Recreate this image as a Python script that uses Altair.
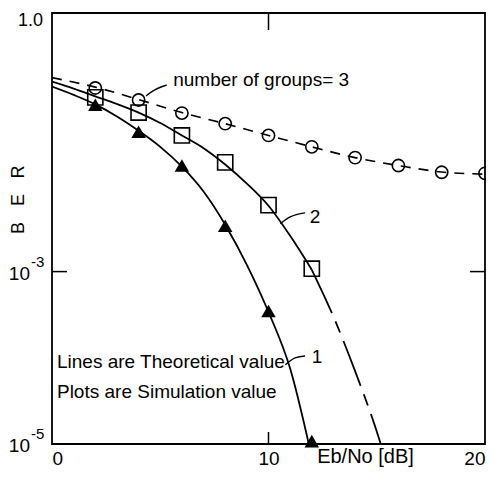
import altair as alt
import pandas as pd

# ---- data ----
x_circle = [2, 4, 6, 8, 10, 12, 14, 16, 18, 20]
ber_circle = [0.135, 0.098, 0.069, 0.052, 0.038, 0.028, 0.021, 0.017, 0.0142, 0.0138]

x_square = [2, 4, 6, 8, 10, 12]
ber_square = [0.105, 0.070, 0.038, 0.0185, 0.0059, 0.00108]

x_tri = [2, 4, 6, 8, 10, 12]
ber_tri = [0.086, 0.042, 0.017, 0.0034, 0.00035, 0.0000108]

x_line1 = [0, 1, 2, 3, 4, 5, 6, 7, 8, 9, 10, 11, 12]
ber_line1 = [0.14, 0.112, 0.087, 0.063, 0.043, 0.028, 0.0165, 0.0085, 0.0035,
             0.0012, 0.00034, 0.000075, 0.000007]

x_line2 = [0, 1, 2, 3, 4, 5, 6, 7, 8, 9, 10, 11, 12, 13, 14, 15, 16]
ber_line2 = [0.16, 0.133, 0.108, 0.088, 0.07, 0.053, 0.038, 0.027, 0.0175, 0.0105,
             0.0058, 0.0026, 0.00105, 0.0003, 0.00007, 0.000014, 0.000002]

x_line3 = [0, 2, 4, 6, 8, 10, 12, 14, 16, 18, 20]
ber_line3 = [0.178, 0.138, 0.099, 0.07, 0.052, 0.038, 0.028, 0.021, 0.017, 0.0143, 0.0135]

ann_text = ["number of groups= 3", "2", "1",
            "Lines are Theoretical value", "Plots are Simulation value"]
ann_x = [5.6, 11.9, 12.0, 0.23, 0.23]
ann_y = [0.167, 0.0043, 0.000102, 0.000089, 0.00004]

lead_id = ["g", "g", "g", "2", "2", "2", "1", "1", "1"]
lead_x = [4.34, 4.75, 5.3, 10.55, 11.0, 11.69, 10.78, 11.23, 11.69]
lead_y = [0.109, 0.128, 0.146, 0.0036, 0.0043, 0.0048, 0.000083, 0.0001, 0.000105]

x_ticks = [10]
y_ticks = [0.001]
x_tick_labels = [0, 10, 20]
y_top_value = [1.0]
y_top_text = ["1.0"]
y_pow_values = [0.001, 0.00001]
y_pow_base = ["10", "10"]
y_pow_exp = ["-3", "-5"]
y_title_letters = ["B", "E", "R"]
x_title = "Eb/No [dB]"

# ---- styles ----
W, H = 433, 431
LAB_FONT = "Liberation Sans"
ANN_FONT = "Liberation Sans"
TITLE_CENTER, TITLE_STEP = 187, 28   # y-title letter layout (px)

xscale = alt.Scale(domain=[0, 20], nice=False)
yscale = alt.Scale(type="log", domain=[1e-5, 1], nice=False)

xaxis = alt.Axis(values=x_tick_labels, ticks=False, grid=False, domain=False,
                 labelFont=LAB_FONT, labelFontSize=19, labelColor="black",
                 labelFlush=True, labelPadding=5,
                 title=x_title, titleFont=LAB_FONT, titleFontSize=20,
                 titleFontWeight="normal", titleColor="black",
                 titleX=313, titleY=12, titleAlign="center", titleBaseline="middle")
yaxis = alt.Axis(labels=False, ticks=False, grid=False, domain=False, title=None)

df_c = pd.DataFrame({"x": x_circle, "y": ber_circle})
df_s = pd.DataFrame({"x": x_square, "y": ber_square})
df_t = pd.DataFrame({"x": x_tri, "y": ber_tri})
df_l1 = pd.DataFrame({"x": x_line1, "y": ber_line1})
df_l2 = pd.DataFrame({"x": x_line2, "y": ber_line2})
df_l2a = df_l2[df_l2.x <= 12]
df_l2b = df_l2[df_l2.x >= 12]
df_l3 = pd.DataFrame({"x": x_line3, "y": ber_line3})
df_ann = pd.DataFrame({"x": ann_x, "y": ann_y, "t": ann_text})
df_lead = pd.DataFrame({"id": lead_id, "x": lead_x, "y": lead_y})
n = len(y_title_letters)
df_title = pd.DataFrame({
    "t": y_title_letters,
    "py": [TITLE_CENTER + TITLE_STEP * ((n - 1) / 2 - i) for i in range(n)],
})


def enc(ch):
    return ch.encode(x=alt.X("x:Q", scale=xscale, axis=xaxis),
                     y=alt.Y("y:Q", scale=yscale, axis=yaxis))


line1 = enc(alt.Chart(df_l1).mark_line(color="black", strokeWidth=1.8,
                                       interpolate="monotone", clip=True))
line2a = enc(alt.Chart(df_l2a).mark_line(color="black", strokeWidth=1.8,
                                         interpolate="monotone", clip=True))
line2b = enc(alt.Chart(df_l2b).mark_line(color="black", strokeWidth=1.8,
                                         interpolate="monotone", clip=True,
                                         strokeDash=[48, 9, 12, 9]))
line3 = enc(alt.Chart(df_l3).mark_line(color="black", strokeWidth=1.6,
                                       interpolate="monotone", clip=True,
                                       strokeDash=[10, 8]))

circ = enc(alt.Chart(df_c).mark_point(shape="circle", size=150, filled=False,
                                      color="black", strokeWidth=1.6, opacity=1))
sq = enc(alt.Chart(df_s).mark_point(shape="square", size=230, filled=False,
                                    color="black", strokeWidth=1.6, opacity=1))
tri = enc(alt.Chart(df_t).mark_point(shape="triangle-up", size=210, filled=True,
                                     color="black", opacity=1))

ann = enc(alt.Chart(df_ann).mark_text(font=ANN_FONT, fontSize=19, align="left",
                                      baseline="middle", color="black")).encode(text="t:N")
lead = enc(alt.Chart(df_lead).mark_line(color="black", strokeWidth=1.4,
                                        interpolate="monotone")).encode(detail="id:N")

# y-axis labels drawn as text (with superscript exponents)
ytop = alt.Chart(pd.DataFrame({"y": y_top_value, "t": y_top_text})).mark_text(
    font=LAB_FONT, fontSize=18, align="right", baseline="middle", dy=8,
    color="black").encode(y=alt.Y("y:Q", scale=yscale), x=alt.value(-9), text="t:N")
ybase = alt.Chart(pd.DataFrame({"y": y_pow_values, "t": y_pow_base})).mark_text(
    font=LAB_FONT, fontSize=19, align="right", baseline="middle", dy=2,
    color="black").encode(y=alt.Y("y:Q", scale=yscale), x=alt.value(-22), text="t:N")
yexp = alt.Chart(pd.DataFrame({"y": y_pow_values, "t": y_pow_exp})).mark_text(
    font=LAB_FONT, fontSize=15, align="left", baseline="middle", dy=-10,
    color="black").encode(y=alt.Y("y:Q", scale=yscale), x=alt.value(-21), text="t:N")
ytitle = alt.Chart(df_title).mark_text(
    font=LAB_FONT, fontSize=18, angle=270, align="center", baseline="middle",
    color="black").encode(x=alt.value(-33),
                          y=alt.Y("py:Q", scale=None), text="t:N")

# inward tick marks (mirrored on all four sides)
tick_x = alt.Chart(pd.DataFrame({"x": x_ticks}))
tick_y = alt.Chart(pd.DataFrame({"y": y_ticks}))
tb = tick_x.mark_rule(color="black", strokeWidth=1.5).encode(
    x=alt.X("x:Q", scale=xscale), y=alt.value(H), y2=alt.value(H - 12))
tt = tick_x.mark_rule(color="black", strokeWidth=1.5).encode(
    x=alt.X("x:Q", scale=xscale), y=alt.value(0), y2=alt.value(17))
tl = tick_y.mark_rule(color="black", strokeWidth=1.5).encode(
    y=alt.Y("y:Q", scale=yscale), x=alt.value(0), x2=alt.value(15))
tr = tick_y.mark_rule(color="black", strokeWidth=1.5).encode(
    y=alt.Y("y:Q", scale=yscale), x=alt.value(W), x2=alt.value(W - 15))

chart = alt.layer(line1, line2a, line2b, line3, lead, circ, sq, tri, ann,
                  ytop, ybase, yexp, ytitle, tb, tt, tl, tr).properties(
    width=W, height=H,
    autosize=alt.AutoSizeParams(type="none"),
    padding={"left": 44, "top": 5, "right": 1, "bottom": 24},
    background="white",
).configure_view(stroke="black", strokeWidth=1.8)

chart.save("out.html", embed_options={"renderer": "svg", "actions": False})
